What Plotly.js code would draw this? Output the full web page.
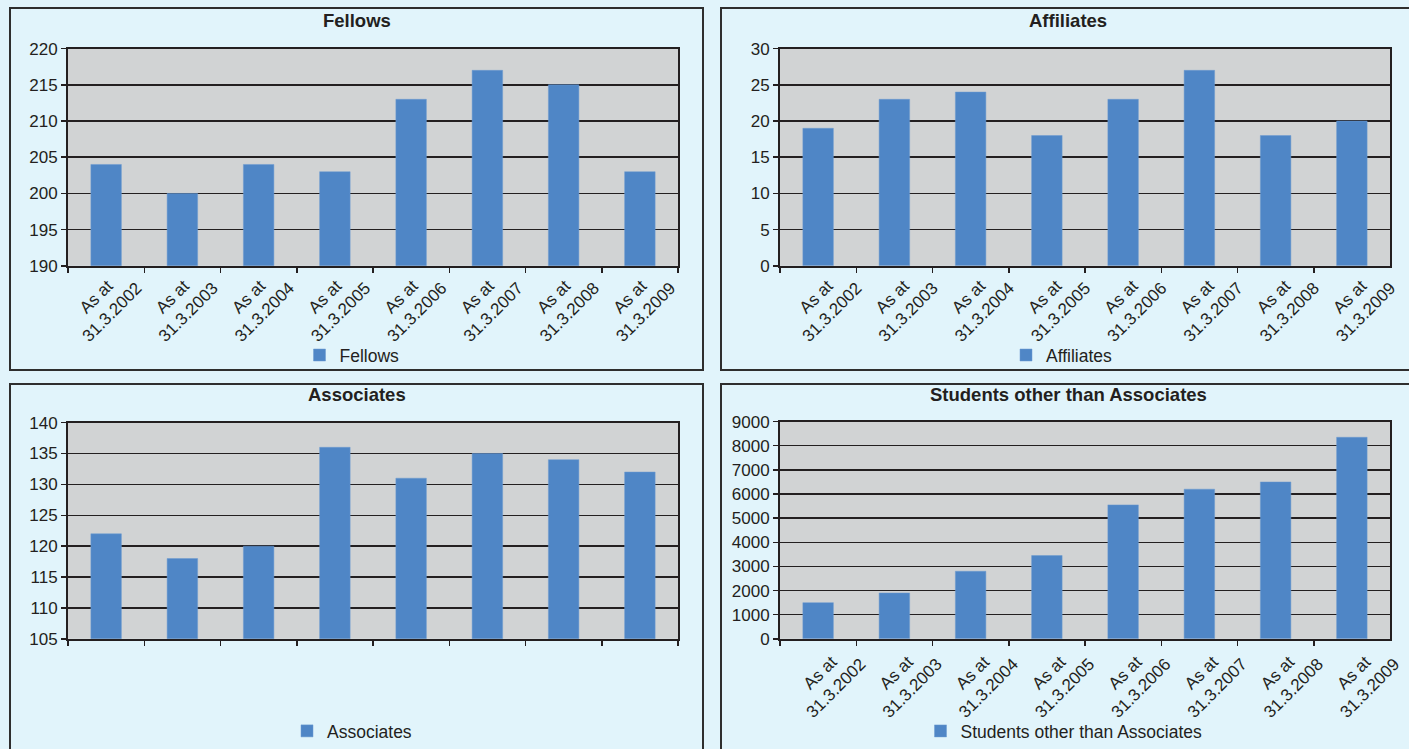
<!DOCTYPE html>
<html>
<head>
<meta charset="utf-8">
<script src="https://cdn.plot.ly/plotly-3.0.1.min.js"></script>
<style>html,body{margin:0;padding:0;background:#e1f4fb;overflow:hidden;}#chart{width:1409px;height:749px;}</style>
</head>
<body>
<div id="chart"></div>
<script>
const categories = ["As at\u00a0\u00a0\u00a0\u00a0<br>31.3.2002","As at\u00a0\u00a0\u00a0\u00a0<br>31.3.2003","As at\u00a0\u00a0\u00a0\u00a0<br>31.3.2004","As at\u00a0\u00a0\u00a0\u00a0<br>31.3.2005","As at\u00a0\u00a0\u00a0\u00a0<br>31.3.2006","As at\u00a0\u00a0\u00a0\u00a0<br>31.3.2007","As at\u00a0\u00a0\u00a0\u00a0<br>31.3.2008","As at\u00a0\u00a0\u00a0\u00a0<br>31.3.2009"];
const fellows = [204, 200, 204, 203, 213, 217, 215, 203];
const affiliates = [19, 23, 24, 18, 23, 27, 18, 20];
const associates = [122, 118, 120, 136, 131, 135, 134, 132];
const students = [1500, 1900, 2800, 3450, 5550, 6200, 6500, 8350];

const W = 1409, H = 749;
const px = v => v / W;
const py = v => 1 - v / H;
const barColor = '#4f86c6';
const font = 'Liberation Sans, Arial, sans-serif';
const textColor = '#231f20';

function bar(x, y, name, xa, ya, lg) {
  return {type: 'bar', x: x, y: y, name: name, xaxis: xa, yaxis: ya, legend: lg,
    marker: {color: barColor, line: {color: '#6c9ad0', width: 0.5}}, width: 0.4,
    showlegend: true, hoverinfo: 'skip'};
}
const data = [
  bar(categories, fellows, 'Fellows', 'x', 'y', 'legend'),
  bar(categories, affiliates, 'Affiliates', 'x2', 'y2', 'legend2'),
  bar(categories, associates, 'Associates', 'x3', 'y3', 'legend3'),
  bar(categories, students, 'Students other than Associates', 'x4', 'y4', 'legend4')
];

function xax(l, r, anchor, showLabels, shift, standoff) {
  return {domain: [px(l), px(r)], anchor: anchor, type: 'category', tickson: 'boundaries',
    ticks: 'outside', ticklen: 5, tickwidth: 1.5, tickcolor: '#231f20',
    showline: true, linecolor: '#231f20', linewidth: 2, mirror: true,
    showgrid: false, zeroline: false, fixedrange: true,
    tickangle: -45, showticklabels: showLabels, ticklabelshift: shift, ticklabelstandoff: standoff,
    tickfont: {family: font, size: 17, color: textColor}};
}
function yax(t, b, anchor, range, dtick) {
  return {domain: [py(b), py(t)], anchor: anchor, range: range, dtick: dtick,
    ticks: 'outside', ticklen: 5, tickwidth: 1.5, tickcolor: '#231f20',
    showline: true, linecolor: '#231f20', linewidth: 2, mirror: true,
    showgrid: true, gridcolor: '#231f20', gridwidth: 1.5, zeroline: false, fixedrange: true,
    tickfont: {family: font, size: 17, color: textColor}};
}
function legendAt(x, y) {
  return {x: px(x), y: py(y), xanchor: 'center', yanchor: 'middle', orientation: 'h',
    bgcolor: 'rgba(0,0,0,0)', font: {family: font, size: 17.5, color: textColor}};
}
function panel(x0, y0, x1, y1) {
  return {type: 'rect', xref: 'paper', yref: 'paper', x0: px(x0), x1: px(x1), y0: py(y1), y1: py(y0),
    line: {color: '#2e2e2e', width: 2}, fillcolor: 'rgba(0,0,0,0)', layer: 'below'};
}
function title(text, x, y) {
  return {text: '<b>' + text + '</b>', xref: 'paper', yref: 'paper', x: px(x), y: py(y),
    xanchor: 'center', yanchor: 'middle', showarrow: false,
    font: {family: font, size: 18.5, color: textColor}};
}

const layout = {
  width: W, height: H, margin: {l: 0, r: 0, t: 0, b: 0},
  paper_bgcolor: '#e1f4fb', plot_bgcolor: '#d1d3d4',
  xaxis: xax(68, 678, 'y', true, 15, -12),
  yaxis: yax(49, 268, 'x', [190, 220], 5),
  xaxis2: xax(780, 1390, 'y2', true, 23, -12),
  yaxis2: yax(49, 268, 'x2', [0, 30], 5),
  xaxis3: xax(68, 678, 'y3', false, 0, 0),
  yaxis3: yax(426, 644, 'x3', [105, 140], 5),
  xaxis4: xax(780, 1390, 'y4', true, 27, -9),
  yaxis4: yax(425, 644, 'x4', [0, 9000], 1000),
  legend: legendAt(352, 358),
  legend2: legendAt(1062, 358),
  legend3: legendAt(352, 737),
  legend4: legendAt(1064, 737),
  shapes: [
    panel(10, 8, 703, 373),
    panel(721, 8, 1420, 373),
    panel(10, 387, 703, 760),
    panel(721, 387, 1420, 760)
  ],
  annotations: [
    title('Fellows', 357, 21),
    title('Affiliates', 1068, 21),
    title('Associates', 357, 398),
    title('Students other than Associates', 1068, 398)
  ]
};
Plotly.newPlot('chart', data, layout, {displayModeBar: false, staticPlot: true});
</script>
</body>
</html>
